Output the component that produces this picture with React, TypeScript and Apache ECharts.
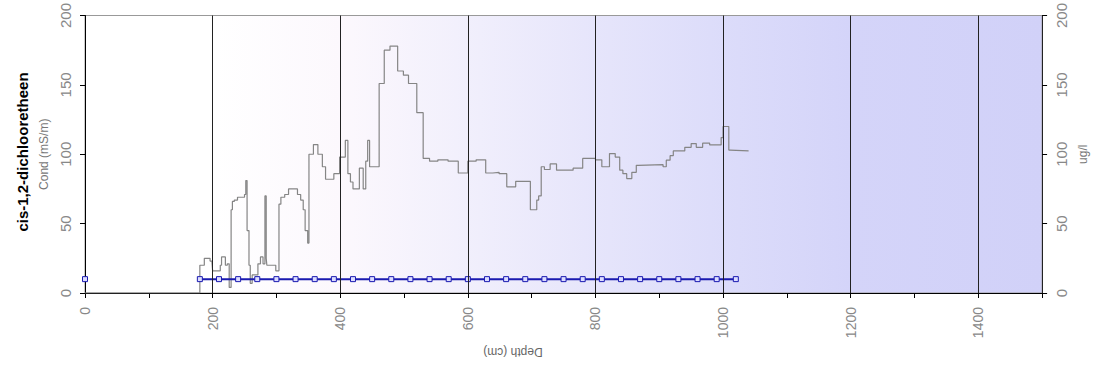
import React, { useEffect, useRef } from "react";
import * as echarts from "echarts";

// Conductivity profile (depth cm, mS/m), drawn as a step line
const condDepths = [0, 180, 187, 196, 199, 200, 212, 214, 220, 223, 226, 229, 231, 234, 239, 250, 252, 254, 257, 259, 262, 271, 275, 279, 282, 284, 285, 299, 304, 307, 313, 319, 333, 338, 342, 345, 349, 351, 358, 365, 372, 377, 390, 399, 408, 412, 416, 420, 430, 436, 440, 443, 446, 461, 469, 478, 490, 499, 507, 520, 530, 540, 553, 569, 585, 600, 613, 628, 639, 649, 661, 675, 698, 708, 711, 715, 720, 729, 739, 765, 780, 800, 810, 822, 831, 838, 843, 849, 857, 864, 867, 906, 911, 917, 922, 940, 950, 958, 968, 979, 997, 1000, 1009, 1011, 1040];
const condValues = [0, 20, 25, 23, 22, 16, 20, 26, 20, 21, 4, 60, 66, 67, 69, 71, 81, 45, 20, 7, 13, 21, 26, 21, 70, 25, 20, 16, 64, 69, 71, 75, 71, 67, 60, 45, 36, 100, 107, 100, 91, 82, 86, 98, 110, 86, 80, 75, 90, 75, 95, 110, 91, 151, 175, 178, 160, 157, 151, 130, 97, 95, 96, 95, 86.5, 95, 96, 86.5, 87, 86, 76.5, 80.5, 60, 67, 70, 91, 89, 93, 88.5, 90, 97, 96, 91, 100.5, 98, 88.5, 86, 82.5, 87, 92, 92.5, 91, 95.7, 99, 102.4, 105, 107.7, 105, 108, 106.7, 112, 120, 103, 102.5, 102.5];

// cis-1,2-dichlooretheen samples (depth cm, ug/l)
const sampleDepths = [180, 210, 240, 270, 300, 330, 360, 390, 420, 450, 480, 510, 540, 570, 600, 630, 660, 690, 720, 750, 780, 810, 840, 870, 900, 930, 960, 990, 1020];
const sampleValues = [10, 10, 10, 10, 10, 10, 10, 10, 10, 10, 10, 10, 10, 10, 10, 10, 10, 10, 10, 10, 10, 10, 10, 10, 10, 10, 10, 10, 10];
const surfaceDepths = [0];
const surfaceValues = [10];

// Vertical reference lines
const gridDepths = [200, 400, 600, 800, 1000, 1200, 1400];

const FONT = "'Liberation Sans', Arial, sans-serif";

export default function App() {
  const ref = useRef<HTMLDivElement>(null);
  useEffect(() => {
    if (!ref.current) return;
    const chart = echarts.init(ref.current, undefined, { renderer: "svg" });
    const xLabelStyle = { color: "#888", fontSize: 14, fontFamily: FONT };
    const yLabelStyle = { color: "#888", fontSize: 15, fontFamily: FONT };
    chart.setOption({
      animation: false,
      textStyle: { fontFamily: FONT },
      grid: {
        left: 85,
        right: 46,
        top: 15,
        bottom: 76,
        show: true,
        borderColor: "#999",
        borderWidth: 1,
        backgroundColor: {
          type: "linear",
          x: 0, y: 0, x2: 1, y2: 0,
          colorStops: [
            { offset: 0, color: "#ffffff" },
            { offset: 0.133, color: "#ffffff" },
            { offset: 0.267, color: "#fcf8fd" },
            { offset: 0.4, color: "#f1effc" },
            { offset: 0.534, color: "#e6e5fb" },
            { offset: 0.667, color: "#dcdcfa" },
            { offset: 0.8, color: "#d4d4f9" },
            { offset: 1, color: "#d1d1f8" },
          ],
        },
      },
      xAxis: {
        type: "value",
        min: 0,
        max: 1500,
        interval: 100,
        axisLine: { show: true, lineStyle: { color: "#000", width: 1 } },
        axisTick: { show: true, length: 5, lineStyle: { color: "#000" } },
        axisLabel: {
          ...xLabelStyle,
          rotate: 90,
          margin: 14,
          formatter: (v: number) => (v % 200 === 0 ? String(v) : ""),
        },
        splitLine: { show: false },
      },
      yAxis: [
        {
          type: "value",
          min: 0,
          max: 200,
          interval: 50,
          position: "left",
          name: "Cond (mS/m)",
          nameLocation: "middle",
          nameRotate: 90,
          nameGap: 34,
          nameTextStyle: { color: "#777", fontSize: 12, fontFamily: FONT },
          axisLine: { show: true, lineStyle: { color: "#000" } },
          axisTick: { show: true, length: 5, lineStyle: { color: "#000" } },
          axisLabel: { ...yLabelStyle, rotate: 90, margin: 12 },
          splitLine: { show: false },
        },
        {
          type: "value",
          min: 0,
          max: 200,
          interval: 50,
          position: "right",
          name: "ug/l",
          nameLocation: "middle",
          nameRotate: 90,
          nameGap: 34,
          nameTextStyle: { color: "#777", fontSize: 12, fontFamily: FONT },
          axisLine: { show: true, lineStyle: { color: "#222" } },
          axisTick: { show: true, length: 5, lineStyle: { color: "#000" } },
          axisLabel: { ...yLabelStyle, rotate: 90, margin: 12 },
          splitLine: { show: false },
        },
      ],
      series: [
        {
          name: "Cond",
          type: "line",
          step: "end",
          yAxisIndex: 0,
          data: condDepths.map((d, i) => [d, condValues[i]]),
          showSymbol: false,
          symbol: "none",
          lineStyle: { color: "#858585", width: 1.2 },
          z: 2,
          markLine: {
            silent: true,
            symbol: "none",
            label: { show: false },
            lineStyle: { color: "#222", width: 1, type: "solid" },
            data: gridDepths.map((d) => ({ xAxis: d })),
          },
        },
        {
          name: "cis-1,2-dichlooretheen",
          type: "line",
          yAxisIndex: 1,
          data: sampleDepths.map((d, i) => [d, sampleValues[i]]),
          symbol: "rect",
          symbolSize: 5,
          lineStyle: { color: "#1a1ab0", width: 2 },
          itemStyle: { color: "#dcdcff", borderColor: "#1a1ab0", borderWidth: 1 },
          z: 3,
        },
        {
          name: "surface",
          type: "line",
          yAxisIndex: 1,
          data: surfaceDepths.map((d, i) => [d, surfaceValues[i]]),
          symbol: "rect",
          symbolSize: 5,
          showAllSymbol: true,
          lineStyle: { color: "#1a1ab0", width: 2 },
          itemStyle: { color: "#dcdcff", borderColor: "#1a1ab0", borderWidth: 1 },
          z: 3,
        },
      ],
      graphic: [
        {
          type: "text",
          x: 22,
          y: 152,
          rotation: Math.PI / 2,
          style: {
            text: "cis-1,2-dichlooretheen",
            fill: "#000",
            font: `bold 15px ${FONT}`,
            align: "center",
            verticalAlign: "middle",
          },
        },
        {
          type: "text",
          x: 513,
          y: 352,
          rotation: Math.PI,
          style: {
            text: "Depth (cm)",
            fill: "#666",
            font: `12px ${FONT}`,
            align: "center",
            verticalAlign: "middle",
          },
        },
      ],
    });
    return () => chart.dispose();
  }, []);
  return (
    <div
      ref={ref}
      style={{ position: "absolute", left: 0, top: 0, width: 1097, height: 369 }}
    />
  );
}
